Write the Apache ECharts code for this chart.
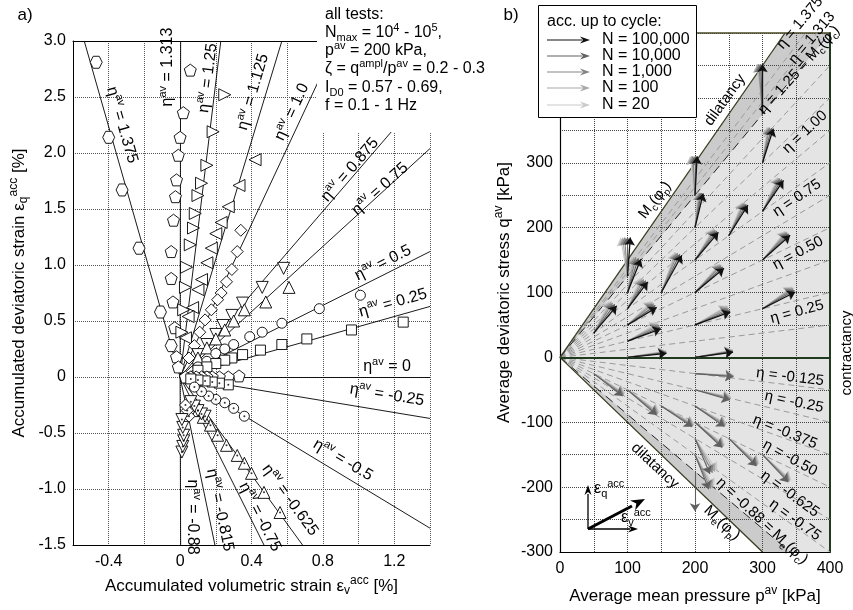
<!DOCTYPE html>
<html>
<head>
<meta charset="utf-8">
<script src="https://cdn.jsdelivr.net/npm/echarts@6/dist/echarts.min.js"></script>
<style>
  html, body { margin: 0; padding: 0; background: #fff; }
  #chart { width: 853px; height: 610px; }
</style>
</head>
<body>
<div id="chart"></div>
<script>
const FONT = '"Liberation Sans", Arial, Helvetica, sans-serif';

// ---------- panel a) : accumulated strain, one list per eta^av ----------
// end points of the fitted straight lines (from the origin), eps_v / eps_q in %
const fitEndX = [-0.537, 0.003, 0.228, 0.57, 0.88, 1.4, 1.4, 1.4, 1.4, 1.4, 1.4, 1.4, 0.686, 0.47, 0.195, 0.003];
const fitEndY = [3.0, 3.0, 3.0, 3.0, 3.0, 2.59, 2.04, 1.12, 0.63, 0, -0.37, -1.35, -1.5, -1.5, -1.5, -1.5];

// measured points [eps_v, eps_q]
const eta1375 = [[-0.47, 2.81], [-0.40, 2.14], [-0.325, 1.67], [-0.23, 1.15], [-0.11, 0.58], [-0.05, 0.28]];
const eta1313 = [[0.057, 2.74], [0.018, 2.36], [0.0, 2.14], [-0.01, 1.98], [-0.02, 1.76], [-0.026, 1.61], [-0.037, 1.40],
  [-0.05, 1.12], [-0.05, 0.88], [-0.04, 0.67], [-0.03, 0.44], [-0.02, 0.18], [-0.01, 0.09]];
const eta125 = [[0.25, 2.52], [0.185, 2.19], [0.15, 1.89], [0.12, 1.73], [0.10, 1.62], [0.085, 1.46], [0.075, 1.33],
  [0.057, 1.18], [0.036, 0.98], [0.03, 0.80], [0.02, 0.60], [0.01, 0.40]];
const eta1125 = [[0.42, 1.94], [0.33, 1.71], [0.27, 1.52], [0.23, 1.38], [0.20, 1.28], [0.175, 1.15], [0.15, 1.02],
  [0.12, 0.87], [0.10, 0.78], [0.07, 0.62], [0.045, 0.54], [0.03, 0.35]];
const eta100 = [[0.34, 1.31], [0.32, 1.12], [0.29, 0.96], [0.26, 0.85], [0.23, 0.75], [0.21, 0.69], [0.175, 0.60],
  [0.14, 0.51], [0.11, 0.40], [0.08, 0.28], [0.05, 0.17]];
const eta0875 = [[0.58, 0.97], [0.46, 0.80], [0.35, 0.66], [0.29, 0.55], [0.24, 0.46], [0.20, 0.38], [0.15, 0.29], [0.10, 0.20]];
const eta075 = [[0.61, 0.80], [0.48, 0.67], [0.36, 0.60], [0.30, 0.50], [0.25, 0.42], [0.20, 0.34], [0.15, 0.26], [0.10, 0.17]];
const eta050 = [[1.01, 0.73], [0.78, 0.61], [0.57, 0.48], [0.46, 0.40], [0.39, 0.36], [0.30, 0.29], [0.25, 0.25],
  [0.20, 0.21], [0.15, 0.14], [0.10, 0.09]];
const eta025 = [[1.25, 0.49], [0.96, 0.42], [0.71, 0.34], [0.57, 0.29], [0.45, 0.24], [0.35, 0.20], [0.29, 0.17],
  [0.25, 0.15], [0.20, 0.12], [0.15, 0.09], [0.10, 0.06]];
const eta000 = [[0.33, 0.01], [0.27, 0.0], [0.22, 0.0], [0.18, 0.0], [0.15, 0.0], [0.12, 0.0], [0.09, 0.0], [0.06, 0.0], [0.03, 0.0]];
const etaM025 = [[0.27, -0.07], [0.22, -0.055], [0.18, -0.045], [0.14, -0.035], [0.10, -0.027], [0.06, -0.017]];
const etaM050 = [[0.36, -0.35], [0.30, -0.28], [0.25, -0.23], [0.20, -0.20], [0.16, -0.17], [0.12, -0.13], [0.08, -0.09]];
const etaM0625 = [[0.56, -1.21], [0.47, -1.03], [0.40, -0.86], [0.36, -0.77], [0.32, -0.70], [0.26, -0.61],
  [0.21, -0.52], [0.17, -0.43], [0.13, -0.36], [0.10, -0.30]];
const etaM075 = [[0.14, -0.35], [0.12, -0.33], [0.10, -0.30], [0.08, -0.26], [0.06, -0.22]];
const etaM0815 = [[0.05, -0.35], [0.04, -0.30], [0.03, -0.25]];
const etaM088 = [[0.01, -0.67], [0.015, -0.62], [0.02, -0.57], [0.02, -0.52], [0.015, -0.45], [0.01, -0.38]];

// ---------- panel b) : stress plane ----------
const etaDashed = [1.375, 1.313, 1.125, 1.0, 0.875, 0.75, 0.625, 0.5, 0.375, 0.25, 0.125,
  -0.125, -0.25, -0.375, -0.5, -0.625, -0.75];
const etaCrit = [1.25, -0.88];   // Mc(phi_c), Me(phi_c)
const etaPeak = [1.5, -1.0];     // Mc(phi_p), Me(phi_p)

// arrow start points (p, q in kPa), length and direction (deg) after N cycles
const arrowP = [300, 300, 300, 300, 300, 250, 200, 200, 200, 200, 200, 200, 150, 100, 100, 100, 100, 100, 100, 50,
  200, 200, 200, 200, 200, 200, 200, 150, 100, 50, 250, 300];
const arrowQ = [375, 300, 225, 150, 75, 187.5, 250, 200, 150, 100, 50, 0, 100, 125, 100, 75, 50, 25, 0, 37.5,
  -25, -50, -75, -100, -125, -150, -176, -75, -50, -25, -125, -150];
const arrowLen = [77, 55, 57, 56, 55, 55, 60, 54, 55, 57, 56, 57, 65, 60, 55, 51, 51, 53, 58, 54,
  57, 54, 54, 56, 59, 57, 61, 56, 58, 55, 59, 57];
const dirN100000 = [90, 73, 57, 43, 28, 59, 87, 77, 51, 41, 21, 8, 62, 86, 69, 54, 32, 21, 6, 51,
  null, null, null, null, null, null, null, null, null, null, null, null];
const dirN10000 = [92, 76, 60, 46, 31, 62, 90, 80, 54, 44, 24, 9, 65, 90, 73, 58, 36, 24, 7, 55,
  -5, -17, -36, -44, -68, -69, -90, -35, -42, -39, -46, -48];
const dirN1000 = [94, 79, 63, 49, 34, 65, 93, 82, 57, 47, 27, 10, 68, 94, 77, 62, 40, 27, 8, 59,
  -4, -15, -34, -42, -64, -66, null, -33, -40, -37, -44, -46];
const dirN100 = [95, 81, 65, 51, 36, 67, 95, 84, 59, 49, 30, 11, 70, 97, 80, 65, 43, 30, 9, 62,
  -3, -13, -32, -40, -60, -63, null, -31, -38, -35, -42, -44];
const dirN20 = [96, 83, 67, 53, 38, 69, 97, 86, 61, 51, 32, 12, 72, 100, 83, 68, 46, 33, 10, 65,
  -2, -11, -30, -38, -56, -60, null, -29, -36, -33, -40, -42];
const cycleNames = ['N = 100,000', 'N = 10,000', 'N = 1,000', 'N = 100', 'N = 20'];

// ---------- helpers ----------
const PENT = 'path://M0,-10 L9.51,-3.09 L5.88,8.09 L-5.88,8.09 L-9.51,-3.09 Z';
const HEX = 'path://M-10,0 L-5,-8.66 L5,-8.66 L10,0 L5,8.66 L-5,8.66 Z';
const arrowColors = ['#111111', '#606060', '#858585', '#a8a8a8', '#cacaca'];

function rich(size) {
  const s = Math.round(size * 0.68);
  return {
    n: { fontSize: size, fontFamily: FONT, color: '#000', fill: '#000', lineHeight: size + 5 },
    sup: { fontSize: s, fontFamily: FONT, color: '#000', fill: '#000', lineHeight: s + 1, verticalAlign: 'top' },
    sub: { fontSize: s, fontFamily: FONT, color: '#000', fill: '#000', lineHeight: s + 1, verticalAlign: 'bottom' }
  };
}
// "x^{a}" -> superscript, "x_{b}" -> subscript
function rt(s) {
  const body = s.replace(/\^\{([^}]*)\}/g, '}{sup|$1}{n|').replace(/_\{([^}]*)\}/g, '}{sub|$1}{n|');
  return ('{n|' + body + '}').replace(/\{n\|\}/g, '');
}
function label(x, y, rot, text, size, align) {
  return {
    type: 'text', x: x, y: y, rotation: rot * Math.PI / 180, z: 60, silent: true,
    style: { text: rt(text), rich: rich(size), fontSize: size, fontFamily: FONT, fill: '#000',
      align: align || 'center', verticalAlign: 'middle' }
  };
}
function head(tx, ty, ang, len, half, color) {
  const c = Math.cos(ang), s = Math.sin(ang);
  const bx = tx - len * c, by = ty - len * s;
  return { type: 'polygon', z: 61, silent: true,
    shape: { points: [[tx, ty], [bx - half * s, by + half * c], [tx - len * 0.7 * c, ty - len * 0.7 * s], [bx + half * s, by - half * c]] },
    style: { fill: color } };
}
function seg(x1, y1, x2, y2, color, w) {
  return { type: 'line', z: 61, silent: true, shape: { x1: x1, y1: y1, x2: x2, y2: y2 }, style: { stroke: color, lineWidth: w } };
}

const pMax = 400, qMax = 500, qMin = -300;
function rayEnd(eta) {
  const p = eta >= 0 ? Math.min(pMax, eta === 0 ? pMax : qMax / eta) : Math.min(pMax, qMin / eta);
  return [p, eta * p];
}
const upPeak = rayEnd(etaPeak[0]), lowPeak = rayEnd(etaPeak[1]);
const upCrit = rayEnd(etaCrit[0]), lowCrit = rayEnd(etaCrit[1]);
const fillRegions = [
  { pts: [[0, 0], upPeak, [pMax, qMax], [pMax, qMin], lowPeak], fill: '#e4e4e4' },
  { pts: [[0, 0], upPeak, upCrit], fill: '#cbcbcb' },
  { pts: [[0, 0], lowPeak, lowCrit], fill: '#cbcbcb' }
];

// ---------- series ----------
const series = [];

// panel a: fitted lines
series.push({
  type: 'lines', coordinateSystem: 'cartesian2d', xAxisIndex: 0, yAxisIndex: 0, silent: true, z: 2,
  lineStyle: { color: '#000', width: 0.9, opacity: 1 },
  data: fitEndX.map((x, i) => ({ coords: [[0, 0], [x, fitEndY[i]]] }))
});

const testSeries = [
  [eta1375, HEX, 0, false], [eta1313, PENT, 0, false], [eta125, 'triangle', -90, false],
  [eta1125, 'triangle', 90, false], [eta100, 'diamond', 0, false], [eta0875, 'triangle', 180, false],
  [eta075, 'triangle', 0, false], [eta050, 'circle', 0, false], [eta025, 'rect', 0, false],
  [eta000, PENT, 0, false], [etaM025, 'rect', 0, true], [etaM050, 'circle', 0, true],
  [etaM0625, 'triangle', 0, true], [etaM075, 'triangle', 180, true], [etaM0815, 'diamond', 0, true],
  [etaM088, 'triangle', 180, true]
];
testSeries.forEach(([data, sym, rot, dotted]) => {
  series.push({
    type: 'scatter', xAxisIndex: 0, yAxisIndex: 0, silent: true, z: 3,
    symbol: sym, symbolRotate: rot, symbolSize: sym === 'circle' || sym === 'rect' ? 10 : 12,
    itemStyle: { color: '#fff', borderColor: '#000', borderWidth: 0.9, opacity: 1 },
    data: data
  });
  if (dotted) {
    series.push({
      type: 'scatter', xAxisIndex: 0, yAxisIndex: 0, silent: true, z: 4,
      symbol: 'circle', symbolSize: 2, itemStyle: { color: '#000' }, data: data
    });
  }
});

// panel b: shaded zones
series.push({
  type: 'custom', xAxisIndex: 2, yAxisIndex: 1, silent: true, z: -1, data: [0],
  renderItem: function (params, api) {
    return { type: 'group', children: fillRegions.map(r => ({
      type: 'polygon', shape: { points: r.pts.map(pt => api.coord(pt)) }, style: { fill: r.fill } })) };
  }
});
// dashed eta lines
series.push({
  type: 'lines', coordinateSystem: 'cartesian2d', xAxisIndex: 2, yAxisIndex: 1, silent: true, z: 2,
  lineStyle: { color: '#9a9a9a', width: 1, type: [6, 4], opacity: 1 },
  data: etaDashed.map(e => ({ coords: [[0, 0], rayEnd(e)] }))
});
series.push({
  type: 'lines', coordinateSystem: 'cartesian2d', xAxisIndex: 2, yAxisIndex: 1, silent: true, z: 2,
  lineStyle: { color: '#222', width: 1, type: [9, 6], opacity: 1 },
  data: etaCrit.map(e => ({ coords: [[0, 0], rayEnd(e)] }))
});
// peak boundaries and q = 0
series.push({
  type: 'lines', coordinateSystem: 'cartesian2d', xAxisIndex: 2, yAxisIndex: 1, silent: true, z: 2,
  lineStyle: { color: '#3c3c22', width: 1.3, opacity: 1 },
  data: [{ coords: [[0, 0], upPeak] }, { coords: [[0, 0], lowPeak] }]
});
series.push({
  type: 'lines', coordinateSystem: 'cartesian2d', xAxisIndex: 2, yAxisIndex: 1, silent: true, z: 2,
  lineStyle: { color: '#1f3a1f', width: 2, opacity: 1 },
  data: [{ coords: [[0, 0], [pMax, 0]] }]
});
// arrows, lightest first
const dirLevels = [dirN100000, dirN10000, dirN1000, dirN100, dirN20];
for (let k = dirLevels.length - 1; k >= 0; k--) {
  const dirs = dirLevels[k];
  const data = [];
  arrowP.forEach((p, i) => {
    if (dirs[i] === null) return;
    const a = dirs[i] * Math.PI / 180;
    data.push({ coords: [[p, arrowQ[i]], [p + arrowLen[i] * Math.cos(a), arrowQ[i] + arrowLen[i] * Math.sin(a)]] });
  });
  series.push({
    type: 'lines', coordinateSystem: 'cartesian2d', xAxisIndex: 2, yAxisIndex: 1, silent: true, z: 5,
    symbol: ['none', 'arrow'], symbolSize: 8,
    lineStyle: { color: arrowColors[k], width: k === 0 ? 1.3 : 1.1, opacity: 1 },
    itemStyle: { color: arrowColors[k] },
    data: data
  });
}

// ---------- graphic: annotations ----------
const graphic = [];
// white box behind the test conditions (panel a)
graphic.push({ type: 'rect', z: 50, silent: true, shape: { x: 317, y: 0, width: 118, height: 132 }, style: { fill: '#fff' } });
const testInfo = ['all tests:', 'N_{max} = 10^{4} - 10^{5},', 'p^{av} = 200 kPa,', 'ζ = q^{ampl}/p^{av} = 0.2 - 0.3',
  'I_{D0} = 0.57 - 0.69,', 'f = 0.1 - 1 Hz'];
const testInfoY = [15, 33, 51, 69, 88, 106];
testInfo.forEach((t, i) => graphic.push(label(325, testInfoY[i], 0, t, 16, 'left')));

graphic.push(label(25, 15, 0, 'a)', 17));
graphic.push(label(511, 15, 0, 'b)', 17));

// panel a line labels: [x, y, rotation, text]
const leftLabels = [
  [122, 125, -74, 'η^{av} = 1.375'], [168, 67, 90, 'η^{av} = 1.313'], [208, 78, 83, 'η^{av} = 1.25'],
  [253, 92, 74, 'η^{av} = 1.125'], [292, 112, 65, 'η^{av} = 1.0'], [350, 170, 49, 'η^{av} = 0.875'],
  [380, 189, 42, 'η^{av} = 0.75'], [383, 263, 26.5, 'η^{av} = 0.5'], [393, 303, 15.6, 'η^{av} = 0.25'],
  [387, 367, 0, 'η^{av} = 0'], [387, 395, -9.4, 'η^{av} = -0.25'], [343, 460, -31, 'η^{av} = -0.5'],
  [290, 500, -54, 'η^{av} = -0.625'], [260, 517, -63, 'η^{av} = -0.75'], [220, 510, -78, 'η^{av} = -0.815'],
  [192, 517, -90, 'η^{av} = -0.88']
];
leftLabels.forEach(l => graphic.push(label(l[0], l[1], l[2], l[3], 16)));

// panel b labels
const rightLabels = [
  [800, 23, 50, 'η = 1.375'], [812, 38, 50, 'η = 1.313'], [799, 70, 48, 'η = 1.25 = M_{c}(φ_{c})'],
  [805, 132, 43, 'η = 1.00'], [797, 198, 34, 'η = 0.75'], [798, 253, 28, 'η = 0.50'],
  [797, 312, 15, 'η = 0.25'], [790, 377, -7, 'η = -0.125'], [794, 402, -12, 'η = -0.25'],
  [785, 432, -22, 'η = -0.375'], [790, 458, -29, 'η = -0.50'], [790, 494, -36, 'η = -0.625'],
  [795, 520, -36, 'η = -0.75'], [762, 521, -43, 'η = -0.88 = M_{e}(φ_{c})'],
  [725, 100, 54, 'dilatancy'], [655, 200, 52, 'M_{c}(φ_{p})'], [655, 466, -43, 'dilatancy'],
  [722, 523, -43, 'M_{e}(φ_{p})'], [847, 353, 90, 'contractancy']
];
rightLabels.forEach(l => graphic.push(label(l[0], l[1], l[2], l[3], 15)));

// legend box
graphic.push({ type: 'rect', z: 55, silent: true, shape: { x: 538.5, y: 5.5, width: 158, height: 112 },
  style: { fill: '#fff', stroke: '#000', lineWidth: 1 } });
graphic.push(label(547, 22, 0, 'acc. up to cycle:', 16, 'left'));
const legendY = [40, 56, 72, 88, 105];
cycleNames.forEach((n, i) => {
  graphic.push(seg(547, legendY[i], 582, legendY[i], arrowColors[i], 1.2));
  graphic.push(head(590, legendY[i], 0, 10, 3.5, arrowColors[i]));
  graphic.push(label(602, legendY[i], 0, n, 16, 'left'));
});

// strain direction glyph
graphic.push(seg(588, 529, 588, 494, '#000', 1.3));
graphic.push(head(588, 485, -Math.PI / 2, 10, 3.5, '#000'));
graphic.push(seg(588, 529, 630, 529, '#000', 1.3));
graphic.push(head(638, 529, 0, 10, 3.5, '#000'));
graphic.push(seg(588, 529, 632, 506, '#000', 3));
graphic.push(head(645, 499, Math.atan2(-23, 44), 14, 5.5, '#000'));
graphic.push(label(594, 489, 0, 'ε_{q}^{acc}', 16, 'left'));
graphic.push(label(621, 518, 0, 'ε_{v}^{acc}', 16, 'left'));

// ---------- axes ----------
const labelStyle = { fontSize: 16, color: '#000', fontFamily: FONT };
const noAxisExtras = { axisTick: { show: false }, axisLabel: { show: false }, splitLine: { show: false } };

const option = {
  animation: false,
  textStyle: { fontFamily: FONT },
  grid: [
    { left: 73, top: 41, width: 357, height: 504 },
    { left: 560, top: 33, width: 270, height: 519 }
  ],
  xAxis: [
    {
      gridIndex: 0, type: 'value', min: -0.6, max: 1.4, interval: 0.2,
      axisLine: { onZero: false, lineStyle: { color: '#000', width: 1 } },
      axisTick: { show: false },
      splitLine: { lineStyle: { type: 'dotted', color: '#555', width: 1 } },
      axisLabel: Object.assign({ margin: 9, formatter: v => {
        const t = Math.round(v * 10);
        if (t % 4 !== 0) return '';
        return t === 0 ? '0' : (t / 10).toFixed(1);
      } }, labelStyle),
      name: rt('Accumulated volumetric strain ε_{v}^{acc} [%]'), nameLocation: 'middle', nameGap: 28,
      nameTextStyle: { rich: rich(17) }
    },
    Object.assign({ gridIndex: 0, type: 'value', position: 'top', min: -0.6, max: 1.4,
      axisLine: { show: true, onZero: false, lineStyle: { color: '#000', width: 1 } } }, noAxisExtras),
    {
      gridIndex: 1, type: 'value', min: 0, max: 400, interval: 50,
      axisLine: { onZero: false, lineStyle: { color: '#000', width: 1.2 } },
      axisTick: { show: false },
      splitLine: { lineStyle: { type: 'dotted', color: '#444', width: 1 } },
      axisLabel: Object.assign({ margin: 9, formatter: v => (v % 100 === 0 ? String(v) : '') }, labelStyle),
      name: rt('Average mean pressure p^{av} [kPa]'), nameLocation: 'middle', nameGap: 33,
      nameTextStyle: { rich: rich(17) }
    },
    Object.assign({ gridIndex: 1, type: 'value', position: 'top', min: 0, max: 400,
      axisLine: { show: true, onZero: false, lineStyle: { color: '#4a4a28', width: 1.5 } } }, noAxisExtras)
  ],
  yAxis: [
    {
      gridIndex: 0, type: 'value', min: -1.5, max: 3.0, interval: 0.5,
      axisLine: { show: true, onZero: false, lineStyle: { color: '#000', width: 1 } },
      axisTick: { show: false },
      splitLine: { lineStyle: { type: 'dotted', color: '#555', width: 1 } },
      axisLabel: Object.assign({ margin: 7, formatter: v => (Math.abs(v) < 1e-9 ? '0' : v.toFixed(1)) }, labelStyle),
      name: rt('Accumulated deviatoric strain ε_{q}^{acc} [%]'), nameLocation: 'middle', nameGap: 43,
      nameTextStyle: { rich: rich(17) }
    },
    {
      gridIndex: 1, type: 'value', min: -300, max: 500, interval: 50,
      axisLine: { show: true, onZero: false, lineStyle: { color: '#000', width: 1.2 } },
      axisTick: { show: false },
      splitLine: { lineStyle: { type: 'dotted', color: '#444', width: 1 } },
      axisLabel: Object.assign({ margin: 7, formatter: v => (v % 100 === 0 && v <= 300 ? String(v) : '') }, labelStyle),
      name: rt('Average deviatoric stress q^{av} [kPa]'), nameLocation: 'middle', nameGap: 45,
      nameTextStyle: { rich: rich(17) }
    },
    Object.assign({ gridIndex: 1, type: 'value', position: 'right', min: -300, max: 500,
      axisLine: { show: true, onZero: false, lineStyle: { color: '#1f3a1f', width: 2 } } }, noAxisExtras)
  ],
  series: series,
  graphic: graphic
};

const chart = echarts.init(document.getElementById('chart'), null, { renderer: 'canvas' });
chart.setOption(option);
</script>
</body>
</html>
